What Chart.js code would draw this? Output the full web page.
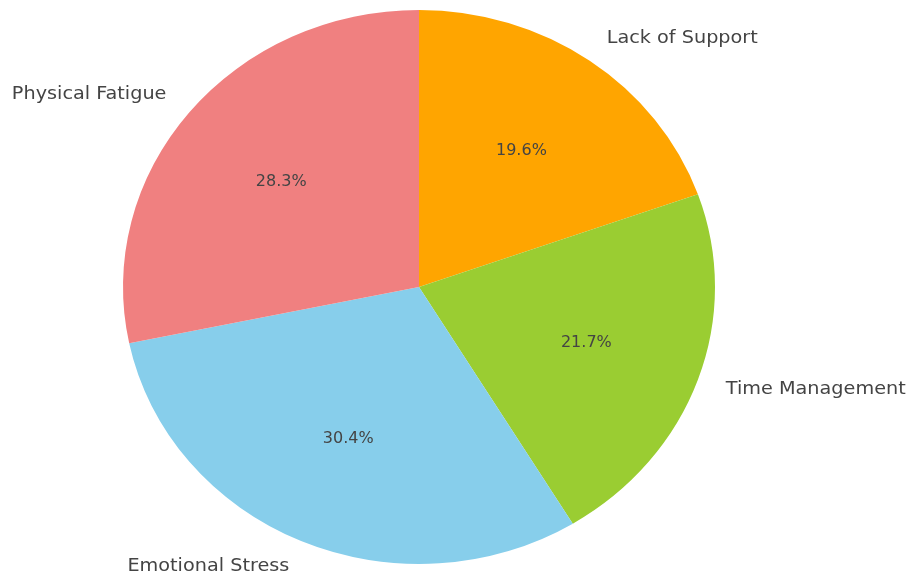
<!DOCTYPE html>
<html>
<head>
<meta charset="utf-8">
<script src="https://cdn.jsdelivr.net/npm/chart.js@4"></script>
<style>
  html, body { margin: 0; padding: 0; background: #fff; }
  #wrap { width: 913px; height: 576px; position: relative; }
</style>
</head>
<body>
<div id="wrap"><canvas id="stressChart"></canvas></div>
<script>
  // Sources of stress (counts), listed counter-clockwise from the top
  const categories = ['Physical Fatigue', 'Emotional Stress', 'Time Management', 'Lack of Support'];
  const counts = [13, 14, 10, 9];
  const colors = ['#F08080', '#87CEEB', '#9ACD32', '#FFA500'];

  // Chart.js draws clockwise, so flip the order to keep slices going CCW
  const drawLabels = categories.slice().reverse();
  const drawCounts = counts.slice().reverse();
  const drawColors = colors.slice().reverse();

  const stretchX = 296 / 277; // pie is a bit wider than tall

  // Stretch the pie horizontally around its centre
  const stretchPlugin = {
    id: 'stretch',
    beforeDatasetsDraw(chart) {
      const arc = chart.getDatasetMeta(0).data[0];
      const ctx = chart.ctx;
      ctx.save();
      ctx.translate(arc.x, arc.y);
      ctx.scale(stretchX, 1);
      ctx.translate(-arc.x, -arc.y);
    },
    afterDatasetsDraw(chart) {
      chart.ctx.restore();
    }
  };

  // Category names outside, percentages inside each slice
  const sliceLabels = {
    id: 'sliceLabels',
    afterDatasetsDraw(chart) {
      const ctx = chart.ctx;
      const ds = chart.data.datasets[0];
      const total = ds.data.reduce((a, b) => a + b, 0);
      chart.getDatasetMeta(0).data.forEach((el, i) => {
        const p = el.getProps(['x', 'y', 'startAngle', 'endAngle', 'outerRadius'], true);
        const mid = (p.startAngle + p.endAngle) / 2;
        const c = Math.cos(mid), s = Math.sin(mid);
        ctx.save();
        ctx.translate(p.x, p.y);
        ctx.scale(stretchX, 1);
        ctx.fillStyle = '#444';
        ctx.textBaseline = 'middle';

        ctx.font = '18px "DejaVu Sans"';
        ctx.textAlign = c >= 0 ? 'left' : 'right';
        ctx.fillText(chart.data.labels[i], c * p.outerRadius * 1.1, s * p.outerRadius * 1.1);

        ctx.font = '15px "DejaVu Sans"';
        ctx.textAlign = 'center';
        const pct = (ds.data[i] / total * 100).toFixed(1) + '%';
        ctx.fillText(pct, c * p.outerRadius * 0.6, s * p.outerRadius * 0.6);
        ctx.restore();
      });
    }
  };

  new Chart(document.getElementById('stressChart'), {
    type: 'pie',
    data: {
      labels: drawLabels,
      datasets: [{
        data: drawCounts,
        backgroundColor: drawColors,
        borderWidth: 0
      }]
    },
    options: {
      responsive: true,
      maintainAspectRatio: false,
      animation: false,
      layout: { padding: { left: 142, right: 217, top: 10, bottom: 12 } },
      plugins: {
        legend: { display: false },
        tooltip: { enabled: false }
      }
    },
    plugins: [stretchPlugin, sliceLabels]
  });
</script>
</body>
</html>
